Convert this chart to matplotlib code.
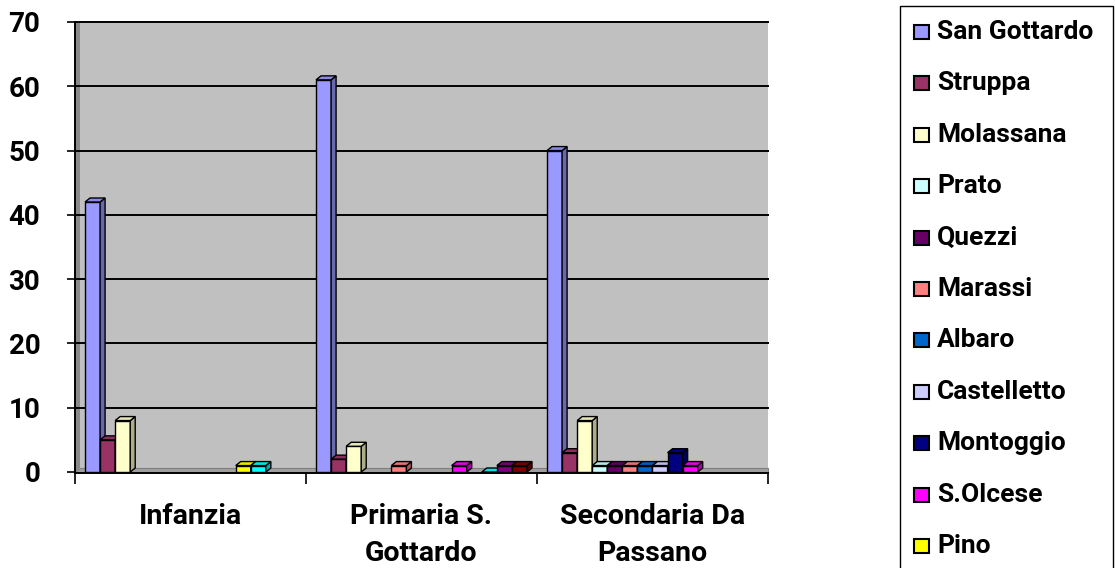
import numpy as np
import matplotlib
matplotlib.use("Agg")
import matplotlib.pyplot as plt
from matplotlib.patches import Rectangle, Polygon
from matplotlib.colors import to_rgb

# ---------------- data ----------------
categories = ["Infanzia", "Primaria S.\nGottardo", "Secondaria Da\nPassano"]
series_names = ["San Gottardo", "Struppa", "Molassana", "Prato", "Quezzi", "Marassi",
                "Albaro", "Castelletto", "Montoggio", "S.Olcese", "Pino",
                None, None, None]  # last three series: legend entries cut off in the source
san_gottardo = [42, 61, 50]
struppa = [5, 2, 3]
molassana = [8, 4, 8]
prato = [np.nan, np.nan, 1]
quezzi = [np.nan, np.nan, 1]
marassi = [np.nan, 1, 1]
albaro = [np.nan, np.nan, 1]
castelletto = [np.nan, np.nan, 1]
montoggio = [np.nan, np.nan, 3]
s_olcese = [np.nan, 1, 1]
pino = [1, np.nan, np.nan]
serie12 = [1, 0, np.nan]
serie13 = [np.nan, 1, np.nan]
serie14 = [np.nan, 1, np.nan]
values = [san_gottardo, struppa, molassana, prato, quezzi, marassi, albaro,
          castelletto, montoggio, s_olcese, pino, serie12, serie13, serie14]
colors = ["#9999FF", "#993366", "#FFFFCC", "#CCFFFF", "#660066", "#FF8080",
          "#0066CC", "#CCCCFF", "#000080", "#FF00FF", "#FFFF00", "#00FFFF",
          "#800080", "#800000"]
yticks = [0, 10, 20, 30, 40, 50, 60, 70]

FONT = ["Roboto", "DejaVu Sans"]
plt.rcParams["font.family"] = FONT
plt.rcParams["font.weight"] = "bold"

W, H = 1115, 568
fig = plt.figure(figsize=(W / 100, H / 100), dpi=100)
ax_l, ax_r, ax_t, ax_b = 75, 768, 22, 472
ax = fig.add_axes([ax_l / W, 1 - ax_b / H, (ax_r - ax_l) / W, (ax_b - ax_t) / H])
ax.set_xlim(-0.5, len(categories) - 0.5)
ax.set_ylim(0, 70)
ax.set_facecolor("#C0C0C0")

# pixel -> data scales
px_x = (len(categories)) / (ax_r - ax_l)
px_y = 70 / (ax_b - ax_t)
dx, dy = 5 * px_x, 4 * px_y

# walls: left side wall and floor
ax.add_patch(Polygon([(-0.5, 0), (-0.5 + dx, dy), (-0.5 + dx, 70), (-0.5, 70)],
                     closed=True, facecolor="#8A8A8A", edgecolor="none", zorder=1))
ax.add_patch(Polygon([(-0.5, 0), (len(categories) - 0.5, 0),
                      (len(categories) - 0.5, dy), (-0.5 + dx, dy)],
                     closed=True, facecolor="#A0A0A0", edgecolor="#808080", lw=0.8, zorder=1,
                     clip_on=False))
for yv in yticks[1:]:
    ax.plot([-0.5, -0.5 + dx, len(categories) - 0.5], [yv, yv, yv],
            color="black", lw=1.4, zorder=2, clip_on=False)

# bars
n = len(values)
bw = 1 / 15.33
start = -(n * bw) / 2
for j, (vals, c) in enumerate(zip(values, colors)):
    rgb = np.array(to_rgb(c))
    side = tuple(rgb * 0.68)
    top = tuple(np.clip(rgb * 0.9, 0, 1))
    for i, v in enumerate(vals):
        if np.isnan(v):
            continue
        x0 = i + start + j * bw
        z = 3 + j * 0.01
        ax.bar(x0, v, width=bw, align="edge", color=c, edgecolor="black",
               linewidth=1.0, zorder=z)
        ax.add_patch(Polygon([(x0 + bw, 0), (x0 + bw + dx, dy), (x0 + bw + dx, v + dy), (x0 + bw, v)],
                             closed=True, facecolor=side, edgecolor="black", lw=1.0, zorder=z))
        ax.add_patch(Polygon([(x0, v), (x0 + bw, v), (x0 + bw + dx, v + dy), (x0 + dx, v + dy)],
                             closed=True, facecolor=top, edgecolor="black", lw=1.0, zorder=z,
                             clip_on=False))

# axes styling
for s in ["top", "right"]:
    ax.spines[s].set_visible(False)
ax.spines["left"].set_linewidth(1.4)
ax.spines["bottom"].set_linewidth(1.4)
ax.spines["bottom"].set_position(("outward", 1))
ax.set_yticks(yticks)
ax.set_yticklabels([str(t) for t in yticks], fontsize=20, fontweight="bold")
ax.tick_params(axis="y", length=6, width=1.2, pad=19)
ax.set_xticks(np.arange(len(categories) + 1) - 0.5, minor=True)
ax.set_xticks(np.arange(len(categories)))
ax.set_xticklabels(categories, fontsize=20.5, fontweight="bold", linespacing=1.5)
ax.tick_params(axis="x", which="major", length=0, pad=21)
ax.tick_params(axis="x", which="minor", length=8, width=1.2)

# legend (drawn manually; box runs off the bottom like the source)
lg_l, lg_t = 900, 6
fig.patches.append(Rectangle((lg_l / W, -0.05), (1113 - lg_l) / W, 1 - lg_t / H + 0.05,
                             transform=fig.transFigure, facecolor="white",
                             edgecolor="black", lw=1.0, zorder=1))
row0, step = 32, 51.4
for k, (name, c) in enumerate(zip(series_names, colors)):
    if name is None:
        continue
    yc = row0 + k * step
    fig.patches.append(Rectangle((914 / W, 1 - (yc + 7) / H), 15 / W, 14 / H,
                                 transform=fig.transFigure, facecolor=c,
                                 edgecolor="black", lw=1.5, zorder=2))
    fig.text(937 / W, 1 - yc / H, name, fontsize=19, fontweight="bold",
             va="center", ha="left", zorder=3)

fig.savefig("out.png", dpi=100, facecolor="white")
